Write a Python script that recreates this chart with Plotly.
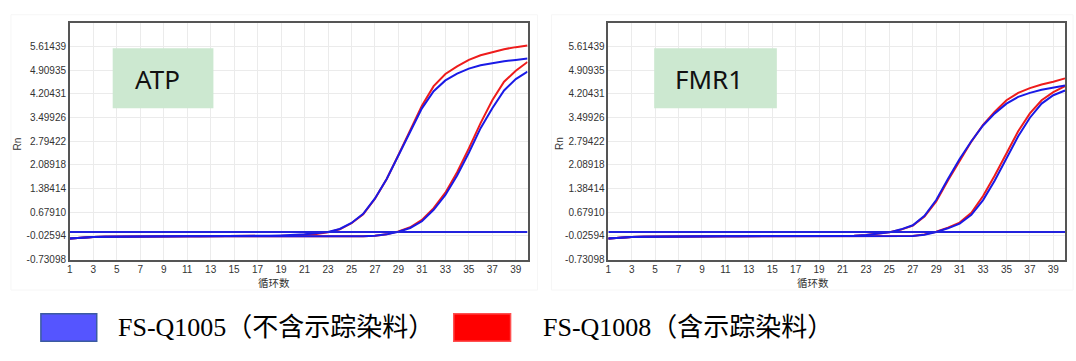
import plotly.graph_objects as go

cycles = list(range(1, 41))
base16 = [-0.10, -0.075, -0.06, -0.05, -0.045, -0.04, -0.035, -0.035, -0.035, -0.035,
          -0.035, -0.035, -0.035, -0.035, -0.035, -0.035]

atp_blue_early = base16 + [-0.03, -0.02, -0.01, 0.0, 0.02, 0.05, 0.09, 0.18, 0.36, 0.63, 1.09, 1.67,
                           2.36, 3.09, 3.77, 4.28, 4.60, 4.80, 4.95, 5.05, 5.12, 5.17, 5.21, 5.25]
atp_red_early = base16 + [-0.035, -0.03, -0.02, -0.01, 0.0, 0.03, 0.08, 0.17, 0.35, 0.62, 1.08, 1.67,
                          2.38, 3.14, 3.85, 4.43, 4.79, 5.02, 5.21, 5.35, 5.45, 5.53, 5.59, 5.64]
atp_blue_late = base16 + [-0.04, -0.045, -0.045, -0.045, -0.045, -0.045, -0.045, -0.045, -0.04, -0.035,
                          -0.02, 0.02, 0.10, 0.21, 0.41, 0.75, 1.19, 1.77, 2.45, 3.18, 3.77, 4.30, 4.64, 4.86]
atp_red_late = base16 + [-0.04, -0.045, -0.045, -0.045, -0.045, -0.045, -0.045, -0.045, -0.04, -0.035,
                         -0.02, 0.02, 0.11, 0.23, 0.45, 0.80, 1.26, 1.87, 2.58, 3.33, 4.01, 4.56, 4.89, 5.15]

fmr_blue_early = base16 + [-0.035, -0.035, -0.035, -0.035, -0.03, -0.02, 0.0, 0.03, 0.08, 0.17, 0.29, 0.57,
                           1.04, 1.67, 2.26, 2.79, 3.26, 3.62, 3.91, 4.11, 4.23, 4.32, 4.38, 4.45]
fmr_red_early = base16 + [-0.035, -0.035, -0.035, -0.035, -0.03, -0.02, 0.0, 0.03, 0.08, 0.16, 0.28, 0.55,
                          1.00, 1.62, 2.22, 2.78, 3.28, 3.67, 4.01, 4.23, 4.37, 4.48, 4.56, 4.66]
fmr_blue_late = base16 + [-0.04, -0.045, -0.045, -0.045, -0.045, -0.045, -0.045, -0.045, -0.045, -0.04,
                          -0.03, 0.01, 0.09, 0.20, 0.34, 0.60, 1.04, 1.62, 2.29, 2.94, 3.49, 3.91, 4.16, 4.30]
fmr_red_late = base16 + [-0.04, -0.045, -0.045, -0.045, -0.045, -0.045, -0.045, -0.045, -0.045, -0.04,
                         -0.03, 0.02, 0.10, 0.22, 0.37, 0.66, 1.16, 1.77, 2.45, 3.09, 3.62, 4.01, 4.25, 4.43]

threshold = 0.09
ytick_vals = [-0.73098, -0.02594, 0.67910, 1.38414, 2.08918, 2.79422, 3.49926, 4.20431, 4.90935, 5.61439]
ytick_text = ["-0.73098", "-0.02594", "0.67910", "1.38414", "2.08918", "2.79422", "3.49926",
              "4.20431", "4.90935", "5.61439"]
xtick_vals = list(range(1, 41, 2))
panel_names = ["ATP", "FMR1"]
y_title = "Rn"
x_title = "循环数"
legend_names = ["FS-Q1005（不含示踪染料）", "FS-Q1008（含示踪染料）"]

W, H = 1076, 361
BLUE = "#1a1ae6"
RED = "#ee1c1c"


def X(px):
    return px / W


def Y(py):
    return 1 - py / H


fig = go.Figure()

panels = [
    ("x", "y", atp_red_early, atp_blue_early, atp_red_late, atp_blue_late),
    ("x2", "y2", fmr_red_early, fmr_blue_early, fmr_red_late, fmr_blue_late),
]
for xa, ya, re, be, rl, bl in panels:
    for data, col in [(re, RED), (rl, RED), (be, BLUE), (bl, BLUE)]:
        fig.add_trace(go.Scatter(x=cycles, y=data, mode="lines", xaxis=xa, yaxis=ya,
                                 line=dict(color=col, width=2), showlegend=False,
                                 hoverinfo="skip"))
    fig.add_trace(go.Scatter(x=[1, 40], y=[threshold, threshold], mode="lines", xaxis=xa, yaxis=ya,
                             line=dict(color="#2222dd", width=1.8), showlegend=False, hoverinfo="skip"))

axis_common = dict(showgrid=True, gridcolor="#ebebeb", gridwidth=1, showline=True,
                   linecolor="#555", linewidth=1.5, mirror=True, zeroline=False, ticks="",
                   tickfont=dict(family="Liberation Sans, Arial", size=10, color="#333"))
ymax = -0.73098 + 10 * 0.70504
fig.update_layout(
    width=W, height=H, margin=dict(l=0, r=0, t=0, b=0),
    paper_bgcolor="white", plot_bgcolor="white",
    xaxis=dict(domain=[X(67), X(526)], range=[1, 40], tickvals=xtick_vals, anchor="y", **axis_common),
    yaxis=dict(domain=[Y(264), Y(23)], range=[-0.73098, ymax], tickvals=ytick_vals + [ymax],
               ticktext=ytick_text + [""], anchor="x", **axis_common),
    xaxis2=dict(domain=[X(607), X(1065)], range=[1, 40], tickvals=xtick_vals, anchor="y2", **axis_common),
    yaxis2=dict(domain=[Y(264), Y(23)], range=[-0.73098, ymax], tickvals=ytick_vals + [ymax],
                ticktext=ytick_text + [""], anchor="x2", **axis_common),
)

shapes = []
annotations = []
# faint panel frames
for x0, x1 in [(8, 536), (550, 1073)]:
    shapes.append(dict(type="rect", xref="paper", yref="paper", x0=X(x0), x1=X(x1), y0=Y(295), y1=Y(15),
                       line=dict(color="#f6f6f6", width=1), fillcolor="rgba(0,0,0,0)", layer="below"))
# name boxes
for (x0, x1, tx), name in zip([(110, 211, 130), (653, 776, 672)], panel_names):
    shapes.append(dict(type="rect", xref="paper", yref="paper", x0=X(x0), x1=X(x1), y0=Y(110), y1=Y(49),
                       line=dict(width=0), fillcolor="#cce8d0", layer="above"))
    annotations.append(dict(xref="paper", yref="paper", x=X(tx), y=Y(80), text=name, showarrow=False,
                            xanchor="left", yanchor="middle",
                            font=dict(family="Noto Sans, Open Sans", size=26, color="#111")))
# axis titles
for rx, cx in [(15, 272), (558, 812)]:
    annotations.append(dict(xref="paper", yref="paper", x=X(rx), y=Y(146), text=y_title, showarrow=False,
                            textangle=-90, xanchor="center", yanchor="middle",
                            font=dict(family="Liberation Sans, Arial", size=10, color="#333")))
    annotations.append(dict(xref="paper", yref="paper", x=X(cx), y=Y(287), text=x_title, showarrow=False,
                            xanchor="center", yanchor="middle",
                            font=dict(family="Noto Sans CJK SC", size=10.5, color="#333")))
# legend
for (x0, x1, tx), fill, border, name in zip([(38, 94, 113), (452, 509, 540)],
                                            ["#5555ff", "#ff0000"], ["#3b5ba0", "#ff5050"], legend_names):
    shapes.append(dict(type="rect", xref="paper", yref="paper", x0=X(x0), x1=X(x1), y0=Y(347), y1=Y(319),
                       line=dict(color=border, width=1.5), fillcolor=fill))
    annotations.append(dict(xref="paper", yref="paper", x=X(tx), y=Y(333), text=name, showarrow=False,
                            xanchor="left", yanchor="middle",
                            font=dict(family="Liberation Serif, Times New Roman, Noto Sans CJK SC",
                                      size=26, color="#000")))

fig.update_layout(shapes=shapes, annotations=annotations)
fig.write_html("out.html", config={"displayModeBar": False},
               post_script="document.body.style.margin='0px';document.body.style.overflow='hidden';")
